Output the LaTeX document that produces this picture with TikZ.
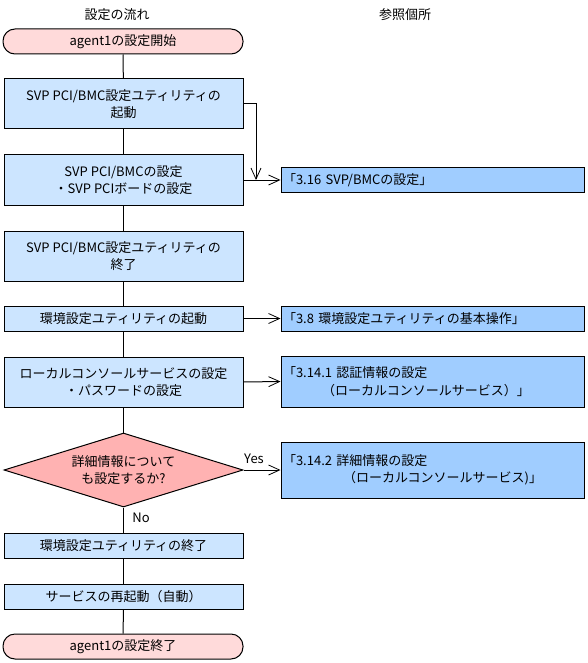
\documentclass[tikz,border=0pt]{standalone}
\usepackage{fontspec}
\setmainfont{Noto Sans CJK JP}
\usetikzlibrary{shapes.geometric,arrows.meta}
\definecolor{boxfill}{RGB}{204,229,255}
\definecolor{reffill}{RGB}{160,205,255}
\definecolor{termfill}{RGB}{255,218,218}
\definecolor{decfill}{RGB}{255,178,178}
\begin{document}
\begin{tikzpicture}[x=1pt,y=-1pt,
  font=\fontsize{13}{17.5}\selectfont,
  every node/.style={inner sep=0pt},
  flowbox/.style={draw, line width=1pt, fill=boxfill, minimum width=239pt, align=center},
  refbox/.style={draw, line width=1pt, fill=reffill, inner xsep=2pt, text width=299pt, align=left},
  term/.style={draw, line width=1pt, fill=termfill, rounded corners=12pt, minimum width=240pt, minimum height=25pt, align=center},
  decision/.style={draw, line width=1pt, fill=decfill, diamond, aspect=3.2, minimum width=239pt, minimum height=74pt, align=center},
  link/.style={line width=1pt},
  arr/.style={line width=1pt, -{Straight Barb[length=11pt,width=10pt,line width=0.8pt]}},
  lbl/.style={inner sep=0pt}
]
\useasboundingbox (0,0) rectangle (587,663);

\node[lbl] (t1) at (117,15) {設定の流れ};
\node[lbl] (t2) at (405,15) {参照個所};

\node[term] (start) at (123,41.5) {agent1の設定開始};
\node[flowbox, minimum height=50pt] (b1) at (123.5,104) {SVP PCI/BMC設定ユティリティの\\起動};
\node[flowbox, minimum height=50pt] (b2) at (123.5,180) {SVP PCI/BMCの設定\\・SVP PCIボードの設定};
\node[flowbox, minimum height=50pt] (b3) at (123.5,256) {SVP PCI/BMC設定ユティリティの\\終了};
\node[flowbox, minimum height=25pt] (b4) at (123.5,318.5) {環境設定ユティリティの起動};
\node[flowbox, minimum height=50pt] (b5) at (123.5,382) {ローカルコンソールサービスの設定\\・パスワードの設定};
\node[decision] (dec) at (123.5,470) {詳細情報について\\も設定するか?};
\node[flowbox, minimum height=25pt] (b6) at (123.5,545.5) {環境設定ユティリティの終了};
\node[flowbox, minimum height=25pt] (b7) at (123.5,597) {サービスの再起動（自動）};
\node[term] (stop) at (123,646.5) {agent1の設定終了};

\node[refbox, minimum height=25pt] (r1) at (432.5,180) {「3.16 SVP/BMCの設定」};
\node[refbox, minimum height=25pt] (r2) at (432.5,318.5) {「3.8 環境設定ユティリティの基本操作」};
\node[refbox, minimum height=51pt] (r3) at (432.5,381.5) {「3.14.1 認証情報の設定\\\hspace*{39pt}（ローカルコンソールサービス）」};
\node[refbox, minimum height=56pt] (r4) at (432.5,470) {「3.14.2 詳細情報の設定\\\hspace*{60pt}（ローカルコンソールサービス)」};

\draw[link] (start) -- (b1);
\draw[link] (b1) -- (b2);
\draw[link] (b2) -- (b3);
\draw[link] (b3) -- (b4);
\draw[link] (b4) -- (b5);
\draw[link] (b5) -- (dec);
\draw[link] (dec) -- (b6);
\draw[link] (b6) -- (b7);
\draw[link] (b7) -- (stop);

\coordinate (j) at (256,180);
\draw[arr] (b1.east) -| (j);
\draw[arr] (b2.east) -- (r1.west);
\draw[arr] (b4.east) -- (r2.west);
\draw[arr] (b5.east) -- (r3.west);
\draw[arr] (dec.east) -- (r4.west);

\node[lbl] (yes) at (254,459) {Yes};
\node[lbl] (no) at (141,518) {No};
\end{tikzpicture}
\end{document}
